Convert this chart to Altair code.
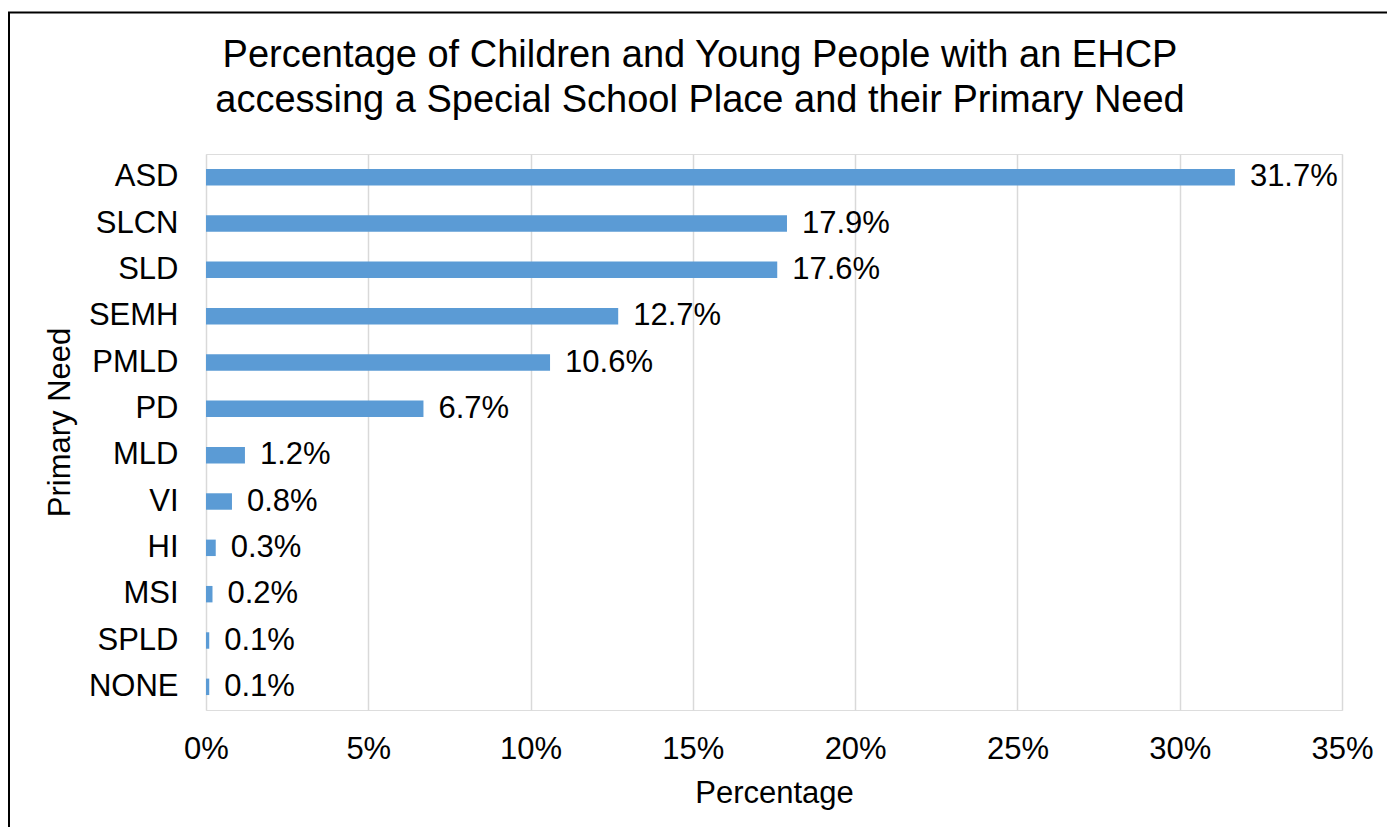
import altair as alt
import pandas as pd

categories = ["ASD", "SLCN", "SLD", "SEMH", "PMLD", "PD", "MLD", "VI", "HI", "MSI", "SPLD", "NONE"]
values = [31.7, 17.9, 17.6, 12.7, 10.6, 6.7, 1.2, 0.8, 0.3, 0.2, 0.1, 0.1]
x_ticks = [0, 0.05, 0.10, 0.15, 0.20, 0.25, 0.30, 0.35]
title_lines = ["Percentage of Children and Young People with an EHCP",
               "accessing a Special School Place and their Primary Need"]

FONT = "Liberation Sans"
W, H = 1136, 556

df = pd.DataFrame({"need": categories, "value": values})

base = alt.Chart(df).transform_calculate(
    pct="datum.value / 100",
    label="format(datum.value, '.1f') + '%'",
)

y_enc = alt.Y(
    "need:N",
    sort=categories,
    scale=alt.Scale(paddingInner=0.645, paddingOuter=0.3225),
    axis=alt.Axis(
        title="Primary Need",
        domain=False, ticks=False, grid=False,
        labelFont=FONT, labelFontSize=31, labelColor="#000000",
        labelPadding=28,
        titleFont=FONT, titleFontSize=31, titleColor="#000000", titleFontWeight="normal",
        titleAngle=-90, titleBaseline="alphabetic", titleAlign="center",
        titleX=-137, titleY=268,
    ),
)

bars = base.mark_bar(color="#5B9BD5").encode(
    x=alt.X(
        "pct:Q",
        scale=alt.Scale(domain=[0, 0.35], nice=False),
        axis=alt.Axis(
            title="Percentage", format=".0%", values=x_ticks,
            domain=False, ticks=False, tickSize=0,
            grid=True, gridColor="#D9D9D9", gridWidth=1.5,
            labelFont=FONT, labelFontSize=31, labelColor="#000000",
            labelPadding=24, labelFlush=False, labelBound=False,
            titleFont=FONT, titleFontSize=31, titleColor="#000000", titleFontWeight="normal",
            titleBaseline="alphabetic", titleY=92, titleX=W / 2,
        ),
    ),
    y=y_enc,
)

labels = base.mark_text(
    align="left", baseline="middle", dx=15, font=FONT, fontSize=31, color="#000000"
).encode(
    x="pct:Q",
    y=alt.Y("need:N", sort=categories),
    text="label:N",
)

frame_df = pd.DataFrame({"k": [0]})
frame = alt.Chart(frame_df).mark_rect(
    fillOpacity=0, stroke="#000000", strokeWidth=2
).encode(
    x=alt.value(-197), x2=alt.value(W + 400),
    y=alt.value(-141.5), y2=alt.value(H + 400),
)

title_df = pd.DataFrame({"t": ["\n".join(title_lines)]})
title = alt.Chart(title_df).mark_text(
    align="center", baseline="alphabetic", lineBreak="\n", lineHeight=45,
    font=FONT, fontSize=38, color="#000000",
).encode(
    x=alt.value(494), y=alt.value(-87), text="t:N",
)

chart = alt.layer(frame, bars, labels, title).properties(
    width=W, height=H,
    autosize=alt.AutoSizeParams(type="none"),
    padding={"left": 198, "top": 146, "right": 45, "bottom": 117},
).configure_view(stroke=None).configure(background="#FFFFFF")

chart.save("out.html", embed_options={"renderer": "svg", "actions": False})
